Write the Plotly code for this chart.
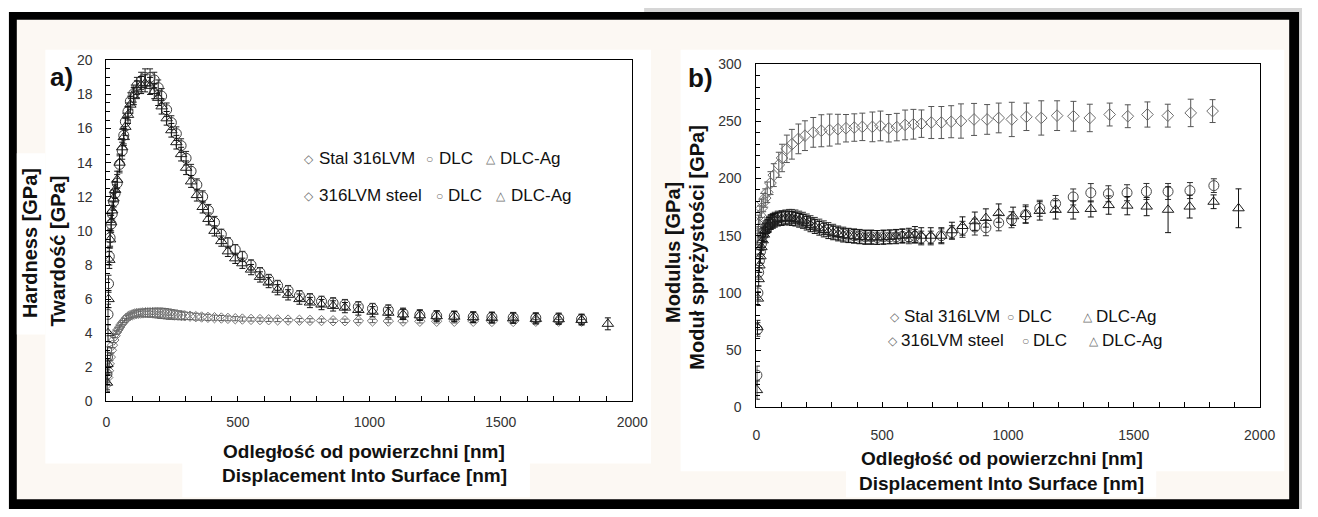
import plotly.graph_objects as go

W, H = 1318, 517
FONT = "Liberation Sans, Arial, sans-serif"

# ---------------- Panel a) Hardness ----------------
steel_a_x = [2, 5, 8, 11, 15, 19, 23, 28, 33, 38, 44, 50, 56, 62, 69, 76, 83, 90, 98, 106,
             114, 122, 130, 139, 148, 157, 166, 175, 185, 195, 205, 215, 226, 237, 248, 260, 272, 285, 298, 318,
             340, 362, 386, 411, 437, 462, 490, 517, 550, 584, 617, 651, 691, 734, 774, 818, 862, 907, 958, 1012,
             1072, 1128, 1192, 1256, 1323, 1395, 1466, 1547, 1633, 1720, 1807]
steel_a_y = [1.0, 1.4, 1.8, 2.2, 2.6, 3.0, 3.3, 3.6, 3.85, 4.05, 4.2, 4.35, 4.5, 4.62, 4.75, 4.88, 4.97, 5.03, 5.08, 5.12,
             5.15, 5.17, 5.18, 5.19, 5.2, 5.2, 5.2, 5.2, 5.19, 5.18, 5.17, 5.16, 5.14, 5.12, 5.1, 5.08, 5.06, 5.04, 5.02, 5.0,
             4.97, 4.95, 4.93, 4.91, 4.89, 4.87, 4.85, 4.83, 4.81, 4.8, 4.79, 4.78, 4.77, 4.76, 4.75, 4.74, 4.73, 4.73, 4.72, 4.72,
             4.71, 4.71, 4.7, 4.7, 4.7, 4.7, 4.69, 4.69, 4.7, 4.7, 4.7]
steel_a_e = [0.3, 0.3, 0.25, 0.2, 0.2, 0.15, 0.15, 0.15, 0.12, 0.12, 0.12, 0.12, 0.12, 0.12, 0.12, 0.15, 0.15, 0.15, 0.15, 0.18,
             0.2, 0.2, 0.2, 0.22, 0.22, 0.25, 0.25, 0.25, 0.28, 0.28, 0.3, 0.3, 0.3, 0.3, 0.28, 0.28, 0.25, 0.25, 0.22, 0.2,
             0.2, 0.18, 0.18, 0.15, 0.15, 0.14, 0.12, 0.12, 0.1, 0.1, 0.1, 0.1, 0.1, 0.1, 0.1, 0.1, 0.1, 0.1, 0.1, 0.1,
             0.1, 0.1, 0.1, 0.1, 0.1, 0.1, 0.1, 0.1, 0.1, 0.1, 0.1]

dlc_a_x = [2, 4, 6, 8, 11, 14, 18, 22, 27, 33, 41, 50, 60, 66, 72, 82, 91, 104, 116, 132,
           147, 166, 182, 197, 210, 229, 247, 266, 284, 303, 322, 344, 366, 388, 411, 437, 462, 490, 517, 550,
           584, 617, 651, 691, 734, 774, 818, 862, 907, 958, 1012, 1072, 1128, 1192, 1256, 1323, 1395, 1466, 1547, 1633,
           1720, 1807]
dlc_a_y = [1.6, 2.6, 5.1, 6.9, 8.5, 9.6, 10.4, 11.0, 11.7, 12.2, 12.8, 13.9, 14.7, 15.6, 16.4, 17.0, 17.6, 18.05, 18.5, 18.8,
           19.0, 19.0, 18.85, 18.4, 17.9, 17.1, 16.35, 15.7, 15.0, 14.26, 13.5, 12.7, 12.0, 11.2, 10.5, 9.8, 9.3, 8.9, 8.5, 8.0,
           7.55, 7.15, 6.8, 6.5, 6.2, 6.02, 5.87, 5.78, 5.68, 5.55, 5.45, 5.36, 5.17, 5.07, 5.02, 5.0, 4.96, 4.94, 4.92, 4.9,
           4.88, 4.82]
dlc_a_e = [0.6, 0.6, 0.6, 0.5, 0.5, 0.5, 0.5, 0.5, 0.5, 0.5, 0.5, 0.5, 0.5, 0.5, 0.5, 0.5, 0.5, 0.5, 0.5, 0.5,
           0.5, 0.5, 0.45, 0.45, 0.45, 0.4, 0.4, 0.4, 0.4, 0.4, 0.4, 0.35, 0.35, 0.35, 0.35, 0.3, 0.3, 0.3, 0.3, 0.3,
           0.3, 0.3, 0.3, 0.3, 0.3, 0.3, 0.3, 0.3, 0.3, 0.3, 0.3, 0.3, 0.3, 0.3, 0.3, 0.3, 0.3, 0.3, 0.3, 0.3,
           0.3, 0.3]

dlcag_a_x = [2, 4, 6, 8, 11, 14, 18, 22, 27, 33, 41, 50, 60, 66, 72, 82, 91, 104, 116, 132,
             147, 166, 182, 197, 210, 229, 247, 266, 284, 303, 322, 344, 366, 388, 411, 437, 462, 490, 517, 550,
             584, 617, 651, 691, 734, 774, 818, 862, 907, 958, 1012, 1072, 1128, 1192, 1256, 1323, 1395, 1466, 1547, 1633,
             1720, 1807, 1907]
dlcag_a_y = [1.1, 2.2, 4.0, 6.0, 8.3, 9.5, 10.5, 11.2, 11.9, 12.4, 13.0, 14.0, 14.9, 15.5, 16.1, 16.8, 17.4, 17.9, 18.3, 18.55,
             18.65, 18.5, 18.2, 17.8, 17.3, 16.6, 15.9, 15.2, 14.5, 13.7, 12.9, 12.1, 11.4, 10.7, 10.0, 9.4, 8.8, 8.39, 8.1, 7.73,
             7.3, 6.97, 6.55, 6.25, 6.0, 5.8, 5.68, 5.6, 5.5, 5.36, 5.26, 5.2, 5.1, 5.05, 5.0, 4.97, 4.93, 4.9, 4.88, 4.84,
             4.82, 4.78, 4.55]
dlcag_a_e = [0.5, 0.5, 0.5, 0.5, 0.5, 0.5, 0.5, 0.5, 0.5, 0.5, 0.5, 0.5, 0.5, 0.5, 0.5, 0.5, 0.5, 0.5, 0.5, 0.5,
             0.5, 0.5, 0.45, 0.45, 0.45, 0.4, 0.4, 0.4, 0.4, 0.4, 0.35, 0.35, 0.35, 0.35, 0.3, 0.3, 0.3, 0.3, 0.3, 0.3,
             0.3, 0.3, 0.3, 0.3, 0.3, 0.3, 0.3, 0.3, 0.3, 0.3, 0.3, 0.3, 0.3, 0.3, 0.3, 0.3, 0.3, 0.3, 0.3, 0.3,
             0.3, 0.3, 0.35]

# ---------------- Panel b) Modulus ----------------
steel_b_x = [3, 8, 14, 20, 27, 35, 43, 56, 69, 89, 102, 121, 141, 167, 193, 226, 258, 291, 324, 356,
             389, 421, 461, 493, 526, 558, 591, 624, 656, 695, 735, 774, 813, 865, 917, 963, 1015, 1073, 1132, 1195,
             1260, 1325, 1404, 1476, 1554, 1635, 1726, 1813]
steel_b_y = [150, 160, 168, 174, 179, 183, 188, 196, 203, 212, 218, 226, 230, 234.7, 237.5, 240.4, 241.8, 242.4, 243.2, 244,
             244.6, 245.2, 245.2, 246, 244, 245, 246.9, 247.5, 248, 249, 249, 249.7, 250.3, 251.7, 251.7, 253, 251.7, 254, 253, 255,
             254.5, 253, 256, 254.5, 256, 255, 257.4, 259]
steel_b_e = [8, 8, 8, 8, 8, 8, 9, 10, 10, 11, 12, 12, 13, 13, 13, 13, 14, 14, 13, 12,
             12, 12, 13, 13, 12, 12, 13, 13, 12, 14, 14, 14, 15, 14, 13, 13, 15, 12, 15, 13,
             13, 12, 10, 10, 11, 10, 12, 10]

dlc_b_x = [2, 4, 6, 9, 12, 16, 20, 25, 30, 36, 43, 50, 57, 65, 73, 85, 100, 115, 130, 141,
           155, 170, 185, 200, 215, 232, 250, 268, 286, 305, 325, 345, 366, 388, 410, 433, 456, 480, 505, 530,
           555, 580, 606, 630, 655, 693, 735, 777, 819, 868, 912, 963, 1014, 1070, 1126, 1189, 1259, 1329, 1399, 1473,
           1550, 1636, 1723, 1818]
dlc_b_y = [28, 68, 100, 118, 128, 136, 143, 150, 154, 157, 159.5, 161, 162.5, 163.5, 164.5, 165.5, 166, 166.5, 167, 167,
           166.5, 165.5, 164.5, 163, 161.5, 160, 158.5, 157, 155.5, 154, 152.5, 151.5, 150.5, 150, 149.5, 149, 149, 148.5, 149, 149,
           149, 149.5, 149, 149.5, 148, 148, 150, 152.8, 155.6, 157.6, 157, 161.3, 164, 168.4, 174, 178.2, 183.9, 187.6, 186.7, 187.6,
           188.7, 188.7, 189.5, 193.8]
dlc_b_e = [8, 6, 6, 6, 6, 6, 6, 6, 6, 6, 6, 6, 6, 6, 6, 6, 6, 6, 6, 6,
           6, 6, 6, 6, 6, 6, 6, 6, 6, 6, 6, 6, 6, 6, 6, 6, 6, 6, 6, 6,
           6, 6, 6, 6, 6, 6, 6, 6, 7, 7, 7, 7, 7, 7, 7, 7, 7, 8, 7, 7,
           7, 7, 7, 6]

dlcag_b_x = [2, 4, 6, 9, 12, 16, 20, 25, 30, 36, 43, 50, 57, 65, 73, 85, 100, 115, 130, 141,
             155, 170, 185, 200, 215, 232, 250, 268, 286, 305, 325, 345, 366, 388, 410, 433, 456, 480, 505, 530,
             555, 580, 606, 630, 655, 693, 735, 777, 819, 868, 912, 963, 1020, 1070, 1126, 1189, 1259, 1329, 1400, 1474,
             1551, 1636, 1722, 1817, 1916]
dlcag_b_y = [15, 70, 95, 112, 124, 132, 140, 146, 151, 155, 158, 160, 161.5, 162.5, 163.5, 164.5, 165, 165.5, 165.5, 165,
             164.5, 163.5, 162.5, 161, 159.5, 158, 156.5, 155, 153.5, 152.5, 151.5, 150.5, 150, 149.5, 149, 148.5, 148.5, 148.5, 148.5, 149,
             149.5, 150, 150.5, 151, 150, 150, 150, 154.8, 158.5, 162.7, 165.5, 169.8, 167, 168.9, 171.7, 172.6, 172.6, 173.4, 176.8, 176.3,
             175.5, 172.7, 175.5, 179.7, 174]
dlcag_b_e = [8, 6, 6, 6, 6, 6, 6, 6, 6, 6, 6, 6, 6, 6, 6, 6, 6, 6, 6, 6,
             6, 6, 6, 6, 6, 6, 6, 6, 6, 6, 6, 6, 6, 6, 6, 6, 6, 6, 6, 6,
             6, 6, 6, 7, 7, 7, 7, 7, 8, 8, 8, 8, 8, 8, 8, 8, 8, 7, 8, 8,
             8, 20, 10, 6, 17]

x_ticks = [0, 500, 1000, 1500, 2000]

fig = go.Figure()

def add_series(x, y, e, symbol, color, ecolor, size, xa, ya):
    fig.add_trace(go.Scatter(
        x=x, y=y, mode="markers", xaxis=xa, yaxis=ya,
        marker=dict(symbol=symbol, size=size, color=color, line=dict(color=color, width=1)),
        error_y=dict(type="data", array=e, color=ecolor, thickness=1, width=3),
        showlegend=False, hoverinfo="skip"))

add_series(steel_a_x, steel_a_y, steel_a_e, "diamond-open", "#777777", "#5a5a5a", 8, "x", "y")
add_series(dlc_a_x, dlc_a_y, dlc_a_e, "circle-open", "#3a3a3a", "#222222", 10, "x", "y")
add_series(dlcag_a_x, dlcag_a_y, dlcag_a_e, "triangle-up-open", "#1e1e1e", "#111111", 10, "x", "y")

add_series(steel_b_x, steel_b_y, steel_b_e, "diamond-open", "#6e6e6e", "#555555", 9, "x2", "y2")
add_series(dlc_b_x, dlc_b_y, dlc_b_e, "circle-open", "#4a4a4a", "#333333", 10, "x2", "y2")
add_series(dlcag_b_x, dlcag_b_y, dlcag_b_e, "triangle-up-open", "#1e1e1e", "#111111", 10, "x2", "y2")

def px(x):
    return x / W

def py(y):
    return 1 - y / H

def axis_common():
    return dict(showline=True, linecolor="black", linewidth=1, mirror=True,
                ticks="inside", ticklen=5, tickcolor="black", tickwidth=1,
                showgrid=False, zeroline=False,
                tickfont=dict(family=FONT, size=14, color="#333333"))

xa = axis_common()
xa.update(domain=[px(104), px(638)], range=[0, 2000], tickvals=x_ticks, anchor="y",
          minor=dict(dtick=100, tick0=0, ticks="inside", ticklen=5, tickcolor="black"),
          ticklabelstandoff=8)
ya = axis_common()
ya.update(domain=[py(406), py(54)], range=[0, 20], dtick=2, tick0=0, anchor="x",
          minor=dict(dtick=0.5, tick0=0, ticks="inside", ticklen=4, tickcolor="black"),
          ticklabelstandoff=10)
xb = axis_common()
xb.update(domain=[px(764), px(1275)], range=[0, 2000], tickvals=x_ticks, anchor="y2",
          minor=dict(dtick=100, tick0=0, ticks="inside", ticklen=5, tickcolor="black"),
          ticklabelstandoff=15)
yb = axis_common()
yb.update(domain=[py(412), py(58)], range=[0, 300], dtick=50, tick0=0, anchor="x2",
          minor=dict(dtick=10, tick0=0, ticks="inside", ticklen=4, tickcolor="black"),
          ticklabelstandoff=11)

shapes = []
def rect(x0, y0, x1, y1, color):
    shapes.append(dict(type="rect", xref="paper", yref="paper", x0=px(x0), x1=px(x1),
                       y0=py(y1), y1=py(y0), fillcolor=color, line=dict(width=0), layer="below"))

rect(650, 0, 1318, 4, "#d6d6d6")
rect(1315, 0, 1318, 517, "#d6d6d6")
rect(5, 4, 1315, 517, "#000000")
rect(13, 12, 1305, 507, "#fcf8f3")
rect(42, 43, 657, 470, "#ffffff")
rect(13, 150, 42, 337, "#ffffff")
rect(181, 468, 534, 505, "#ffffff")
rect(687, 43, 1300, 478, "#ffffff")
rect(855, 476, 1170, 505, "#ffffff")

ann = []
def text(x, y, s, size=17, color="#111111", bold=False, anchor="left", angle=0):
    if bold:
        s = "<b>" + s + "</b>"
    ann.append(dict(xref="paper", yref="paper", x=px(x), y=py(y), text=s, showarrow=False,
                    xanchor=anchor, yanchor="middle", textangle=angle,
                    font=dict(family=FONT, size=size, color=color)))

# panel labels
text(58, 71, "a)", size=26, bold=True, anchor="center")
text(707, 72, "b)", size=26, bold=True, anchor="center")

# axis titles
text(366, 458, "Odległość od powierzchni [nm]", size=19, bold=True, anchor="center")
text(366, 482, "Displacement Into Surface [nm]", size=19, bold=True, anchor="center")
text(1013, 465, "Odległość od powierzchni [nm]", size=19, bold=True, anchor="center")
text(1013, 491, "Displacement Into Surface [nm]", size=19, bold=True, anchor="center")
text(27, 243, "Hardness [GPa]", size=20, bold=True, anchor="center", angle=-90)
text(55, 251, "Twardość [GPa]", size=20, bold=True, anchor="center", angle=-90)
text(680, 252, "Modulus [GPa]", size=20, bold=True, anchor="center", angle=-90)
text(704, 247, "Moduł sprężystości [GPa]", size=20, bold=True, anchor="center", angle=-90)

# legends (two language rows)
SYM = "#707070"
legend_rows = [
    (155, [(310, "◇"), (432, "○"), (494, "△")], [(318, "Stal 316LVM"), (440, "DLC"), (502, "DLC-Ag")]),
    (193, [(310, "◇"), (442, "○"), (505, "△")], [(318, "316LVM steel"), (449, "DLC"), (513, "DLC-Ag")]),
    (318, [(905, "◇"), (1022, "○"), (1101, "△")], [(912, "Stal 316LVM"), (1028, "DLC"), (1107, "DLC-Ag")]),
    (343, [(903, "◇"), (1037, "○"), (1107, "△")], [(909, "316LVM steel"), (1043, "DLC"), (1113, "DLC-Ag")]),
]
for yy, syms, labels in legend_rows:
    for xx, s in syms:
        text(xx, yy + 1, s, size=12, color=SYM, anchor="center")
    for xx, s in labels:
        text(xx, yy, s, size=17, color="#111111")

fig.update_layout(
    width=W, height=H, margin=dict(l=0, r=0, t=0, b=0),
    paper_bgcolor="#ffffff", plot_bgcolor="#ffffff",
    xaxis=xa, yaxis=ya, xaxis2=xb, yaxis2=yb,
    shapes=shapes, annotations=ann, showlegend=False,
    font=dict(family=FONT),
)

fig.write_html("out.html")
